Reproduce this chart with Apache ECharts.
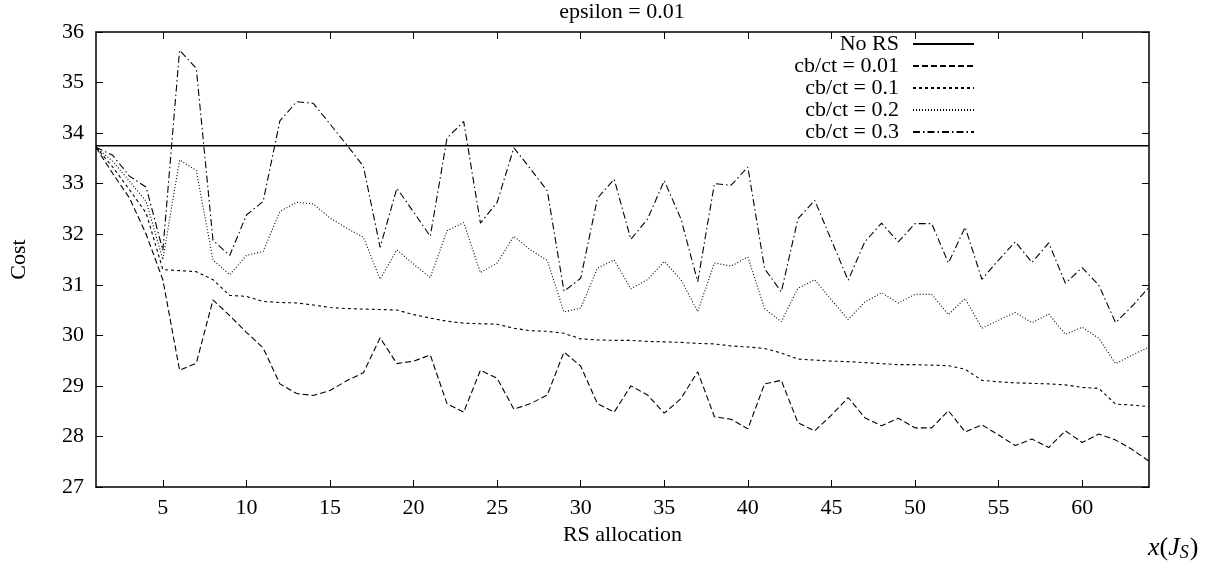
<!DOCTYPE html>
<html>
<head>
<meta charset="utf-8">
<script src="https://cdn.jsdelivr.net/npm/echarts@6/dist/echarts.min.js"></script>
<style>
    html, body { margin: 0; padding: 0; background: #fff; }
    #line-box { width: 1227px; height: 567px; }
</style>
</head>
<body>
<div id="line-box"></div>
<script>
    // RS allocation 1..64
    const allocation = [];
    for (let i = 1; i <= 64; i++) allocation.push(i);

    const xTicks = [5, 10, 15, 20, 25, 30, 35, 40, 45, 50, 55, 60];
    const noRsCost = 33.75;

    const cost001 = [33.72, 33.2, 32.72, 32.0, 31.1, 29.31, 29.45, 30.7, 30.39, 30.06,
        29.75, 29.04, 28.85, 28.81, 28.91, 29.1, 29.26, 29.95, 29.44, 29.49,
        29.61, 28.65, 28.48, 29.31, 29.15, 28.54, 28.65, 28.82, 29.67, 29.39,
        28.65, 28.48, 29.0, 28.82, 28.46, 28.75, 29.28, 28.39, 28.34, 28.15,
        29.04, 29.11, 28.27, 28.11, 28.42, 28.77, 28.37, 28.21, 28.36, 28.17,
        28.17, 28.51, 28.09, 28.23, 28.03, 27.82, 27.95, 27.78, 28.11, 27.88,
        28.05, 27.93, 27.74, 27.51];

    const cost01 = [33.72, 33.33, 32.88, 32.42, 31.3, 31.28, 31.26, 31.1, 30.79, 30.77,
        30.67, 30.65, 30.64, 30.6, 30.55, 30.53, 30.52, 30.51, 30.5, 30.41,
        30.34, 30.28, 30.24, 30.23, 30.22, 30.14, 30.09, 30.08, 30.04, 29.93,
        29.91, 29.9, 29.9, 29.88, 29.87, 29.86, 29.84, 29.83, 29.79, 29.77,
        29.74, 29.65, 29.53, 29.51, 29.49, 29.48, 29.46, 29.44, 29.42, 29.42,
        29.41, 29.4, 29.33, 29.11, 29.08, 29.06, 29.05, 29.04, 29.02, 28.97,
        28.95, 28.64, 28.62, 28.59];

    const cost02 = [33.72, 33.44, 33.05, 32.65, 31.5, 33.47, 33.26, 31.49, 31.2, 31.58,
        31.66, 32.45, 32.63, 32.6, 32.32, 32.12, 31.94, 31.11, 31.69, 31.41,
        31.14, 32.07, 32.23, 31.24, 31.43, 31.96, 31.69, 31.48, 30.46, 30.54,
        31.33, 31.49, 30.92, 31.1, 31.46, 31.1, 30.47, 31.43, 31.37, 31.55,
        30.53, 30.27, 30.93, 31.1, 30.7, 30.31, 30.66, 30.84, 30.64, 30.81,
        30.81, 30.41, 30.73, 30.14, 30.3, 30.45, 30.25, 30.42, 30.02, 30.16,
        29.94, 29.44, 29.61, 29.77];

    const cost03 = [33.72, 33.56, 33.15, 32.93, 31.68, 35.64, 35.28, 31.88, 31.58, 32.38,
        32.65, 34.24, 34.62, 34.59, 34.18, 33.77, 33.34, 31.74, 32.91, 32.44,
        31.96, 33.9, 34.23, 32.22, 32.63, 33.71, 33.29, 32.86, 30.87, 31.13,
        32.71, 33.09, 31.9, 32.3, 33.06, 32.3, 31.06, 33.0, 32.97, 33.33,
        31.32, 30.86, 32.31, 32.67, 31.88, 31.09, 31.85, 32.22, 31.85, 32.21,
        32.21, 31.43, 32.14, 31.11, 31.49, 31.85, 31.44, 31.83, 31.03, 31.34,
        30.99, 30.25, 30.58, 30.95];

    const seriesNames = ['No RS', 'cb/ct = 0.01', 'cb/ct = 0.1', 'cb/ct = 0.2', 'cb/ct = 0.3'];

    const FONT = '"Liberation Serif", "DejaVu Serif", serif';

    function pairs(values) {
        return values.map(function (v, i) { return [allocation[i], v]; });
    }

    function lineSeries(name, data, dash, width) {
        return {
            name: name,
            type: 'line',
            data: data,
            symbol: 'none',
            animation: false,
            silent: true,
            itemStyle: { color: '#000' },
            lineStyle: { color: '#000', width: width, type: dash }
        };
    }

    // one legend per row so the text is right aligned like gnuplot's key
    let legendTops = [33, 55, 77, 99, 121];
    let legends = seriesNames.map(function (name, i) {
        return {
            data: [name],
            right: 252,
            top: legendTops[i],
            padding: 0,
            align: 'right',
            itemWidth: 61,
            itemHeight: 14,
            selectedMode: false,
            itemStyle: { opacity: 0 },
            textStyle: { fontFamily: FONT, fontSize: 22, color: '#000', lineHeight: 22, padding: [0, 9, 0, 0] }
        };
    });

    let axisLineStyle = { color: '#000', width: 1.5 };

    let option = {
        backgroundColor: '#fff',
        animation: false,
        legend: legends,
        grid: { left: 95, right: 78, top: 32, bottom: 80, containLabel: false },
        xAxis: [
            {
                type: 'value', min: 1, max: 64, position: 'bottom',
                axisLine: { show: true, lineStyle: axisLineStyle },
                axisTick: { show: true, inside: true, length: 7, customValues: xTicks, lineStyle: { color: '#000' } },
                axisLabel: { customValues: xTicks, color: '#000', fontFamily: FONT, fontSize: 22, margin: 10 },
                splitLine: { show: false },
                name: 'RS allocation', nameLocation: 'middle', nameGap: 36,
                nameTextStyle: { fontFamily: FONT, fontSize: 22, color: '#000' }
            },
            {
                type: 'value', min: 1, max: 64, position: 'top',
                axisLine: { show: true, lineStyle: axisLineStyle },
                axisTick: { show: true, inside: true, length: 7, customValues: xTicks, lineStyle: { color: '#000' } },
                axisLabel: { show: false },
                splitLine: { show: false }
            }
        ],
        yAxis: [
            {
                type: 'value', min: 27, max: 36, interval: 1, position: 'left',
                axisLine: { show: true, lineStyle: axisLineStyle },
                axisTick: { show: true, inside: true, length: 7, lineStyle: { color: '#000' } },
                axisLabel: { color: '#000', fontFamily: FONT, fontSize: 22, margin: 12 },
                splitLine: { show: false },
                name: 'Cost', nameLocation: 'middle', nameGap: 66, nameRotate: 90,
                nameTextStyle: { fontFamily: FONT, fontSize: 22, color: '#000' }
            },
            {
                type: 'value', min: 27, max: 36, interval: 1, position: 'right',
                axisLine: { show: true, lineStyle: axisLineStyle },
                axisTick: { show: true, inside: true, length: 7, lineStyle: { color: '#000' } },
                axisLabel: { show: false },
                splitLine: { show: false }
            }
        ],
        graphic: [
            {
                type: 'text', x: 622, y: 12, silent: true,
                style: { text: 'epsilon = 0.01', fontFamily: FONT, fontSize: 22, fill: '#000', align: 'center', verticalAlign: 'middle' }
            },
            {
                type: 'text', x: 1148, y: 548, silent: true,
                style: {
                    text: '{i|x}{n|(}{i|J}{s|S}{n|)}',
                    fill: '#000', verticalAlign: 'middle',
                    rich: {
                        i: { fontFamily: FONT, fontStyle: 'italic', fontSize: 26, fill: '#000' },
                        n: { fontFamily: FONT, fontSize: 26, fill: '#000' },
                        s: { fontFamily: FONT, fontStyle: 'italic', fontSize: 18, fill: '#000', padding: [10, 1, 0, 0] }
                    }
                }
            }
        ],
        series: [
            lineSeries(seriesNames[0], [[1, noRsCost], [64, noRsCost]], 'solid', 1.3),
            lineSeries(seriesNames[1], pairs(cost001), [6, 3], 1.1),
            lineSeries(seriesNames[2], pairs(cost01), [3, 3], 1.1),
            lineSeries(seriesNames[3], pairs(cost02), [1, 2], 1.1),
            lineSeries(seriesNames[4], pairs(cost03), [7, 3, 1.5, 3], 1.1)
        ]
    };

    let myChart = echarts.init(document.getElementById('line-box'));
    myChart.setOption(option);
</script>
</body>
</html>
